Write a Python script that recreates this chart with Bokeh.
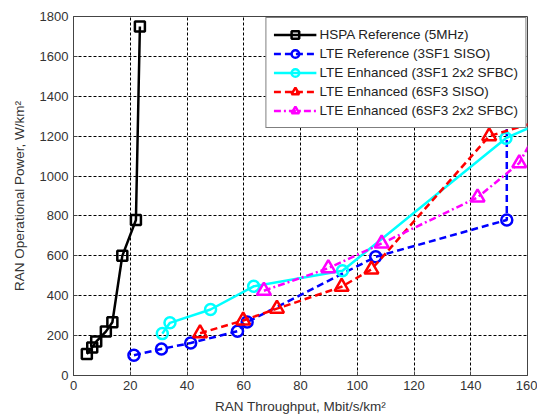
from bokeh.plotting import figure
from bokeh.models import Range1d, FixedTicker, Legend, LegendItem
from bokeh.embed import file_html
from bokeh.resources import INLINE

# ---- data ----
hspa_x = [4.7, 6.6, 8.0, 11.4, 13.7, 17.2, 22.0, 23.4]
hspa_y = [108, 141, 170, 220, 267, 600, 780, 1750]

lte_ref_x = [21.3, 31.0, 41.3, 57.8, 61.2, 106.5, 152.7, 152.7]
lte_ref_y = [102, 133, 163, 222, 268, 595, 780, 1850]

lte_sfbc_x = [31.3, 34.0, 48.3, 63.5, 94.8, 152.4, 165.0]
lte_sfbc_y = [210, 264, 331, 447, 525, 1190, 1270]

lte6_siso_x = [44.6, 59.8, 71.7, 94.5, 105.0, 146.5, 165.0]
lte6_siso_y = [212, 276, 335, 445, 532, 1200, 1280]

lte6_sfbc_x = [67.1, 89.8, 108.6, 142.4, 157.1, 163.0]
lte6_sfbc_y = [425, 538, 662, 893, 1065, 1220]

x_ticks = [0, 20, 40, 60, 80, 100, 120, 140, 160]
y_ticks = [0, 200, 400, 600, 800, 1000, 1200, 1400, 1600, 1800]

series = [
    ("HSPA Reference (5MHz)", hspa_x, hspa_y, "#000000", "solid", "square", 10),
    ("LTE Reference (3SF1 SISO)", lte_ref_x, lte_ref_y, "#0000ff", "7 4", "circle", 11),
    ("LTE Enhanced (3SF1 2x2 SFBC)", lte_sfbc_x, lte_sfbc_y, "#00ffff", "solid", "circle", 11),
    ("LTE Enhanced (6SF3 SISO)", lte6_siso_x, lte6_siso_y, "#ff0000", "7 4", "triangle", 14),
    ("LTE Enhanced (6SF3 2x2 SFBC)", lte6_sfbc_x, lte6_sfbc_y, "#ff00ff", "7 3 2 3", "triangle", 14),
]

FONT = "Liberation Sans"

p = figure(frame_width=454, frame_height=359, output_backend="svg", toolbar_location=None,
           x_range=Range1d(0, 160), y_range=Range1d(0, 1800),
           min_border_left=73, min_border_right=10, min_border_top=16, min_border_bottom=40)

p.background_fill_color = "white"
p.border_fill_color = "white"
p.outline_line_color = "#444444"
p.outline_line_width = 1

for ax in (p.xaxis[0], p.yaxis[0]):
    ax.axis_line_color = "#444444"
    ax.major_tick_in = 4
    ax.major_tick_out = 0
    ax.minor_tick_line_color = None
    ax.major_tick_line_color = "#444444"
    ax.major_label_text_font = FONT
    ax.major_label_text_font_size = "13px"
    ax.major_label_text_color = "#333333"
    ax.axis_label_text_font = FONT
    ax.axis_label_text_font_size = "13.5px"
    ax.axis_label_text_font_style = "normal"
    ax.axis_label_text_color = "#333333"

p.xaxis.ticker = FixedTicker(ticks=x_ticks)
p.yaxis.ticker = FixedTicker(ticks=y_ticks)
p.xaxis.axis_label = "RAN Throughput, Mbit/s/km²"
p.yaxis.axis_label = "RAN Operational Power, W/km²"
p.xaxis.major_label_standoff = 5
p.yaxis.major_label_standoff = 5
p.xaxis.axis_label_standoff = 6
p.yaxis.axis_label_standoff = 10

p.grid.grid_line_color = "#000000"
p.grid.grid_line_dash = "3 2"
p.grid.grid_line_width = 1
p.grid.grid_line_alpha = 1

items = []
for name, xs, ys, col, dash, marker, size in series:
    r1 = p.line(xs, ys, line_color=col, line_width=2.5, line_dash=dash)
    r2 = p.scatter(xs, ys, marker=marker, size=size, line_color=col, line_width=2.5,
                   fill_color=None)
    items.append(LegendItem(label=name, renderers=[r1, r2]))

legend = Legend(items=items, location="top_right")
legend.label_text_font = FONT
legend.label_text_font_size = "13.5px"
legend.label_text_color = "#222222"
legend.border_line_color = "#000000"
legend.border_line_width = 1
legend.background_fill_color = "white"
legend.background_fill_alpha = 1
legend.glyph_width = 43
legend.glyph_height = 19
legend.label_height = 19
legend.label_standoff = 3
legend.spacing = 0
legend.padding = 7
legend.margin = 1
p.add_layout(legend, "center")

open("out.html", "w").write(file_html(p, INLINE))
